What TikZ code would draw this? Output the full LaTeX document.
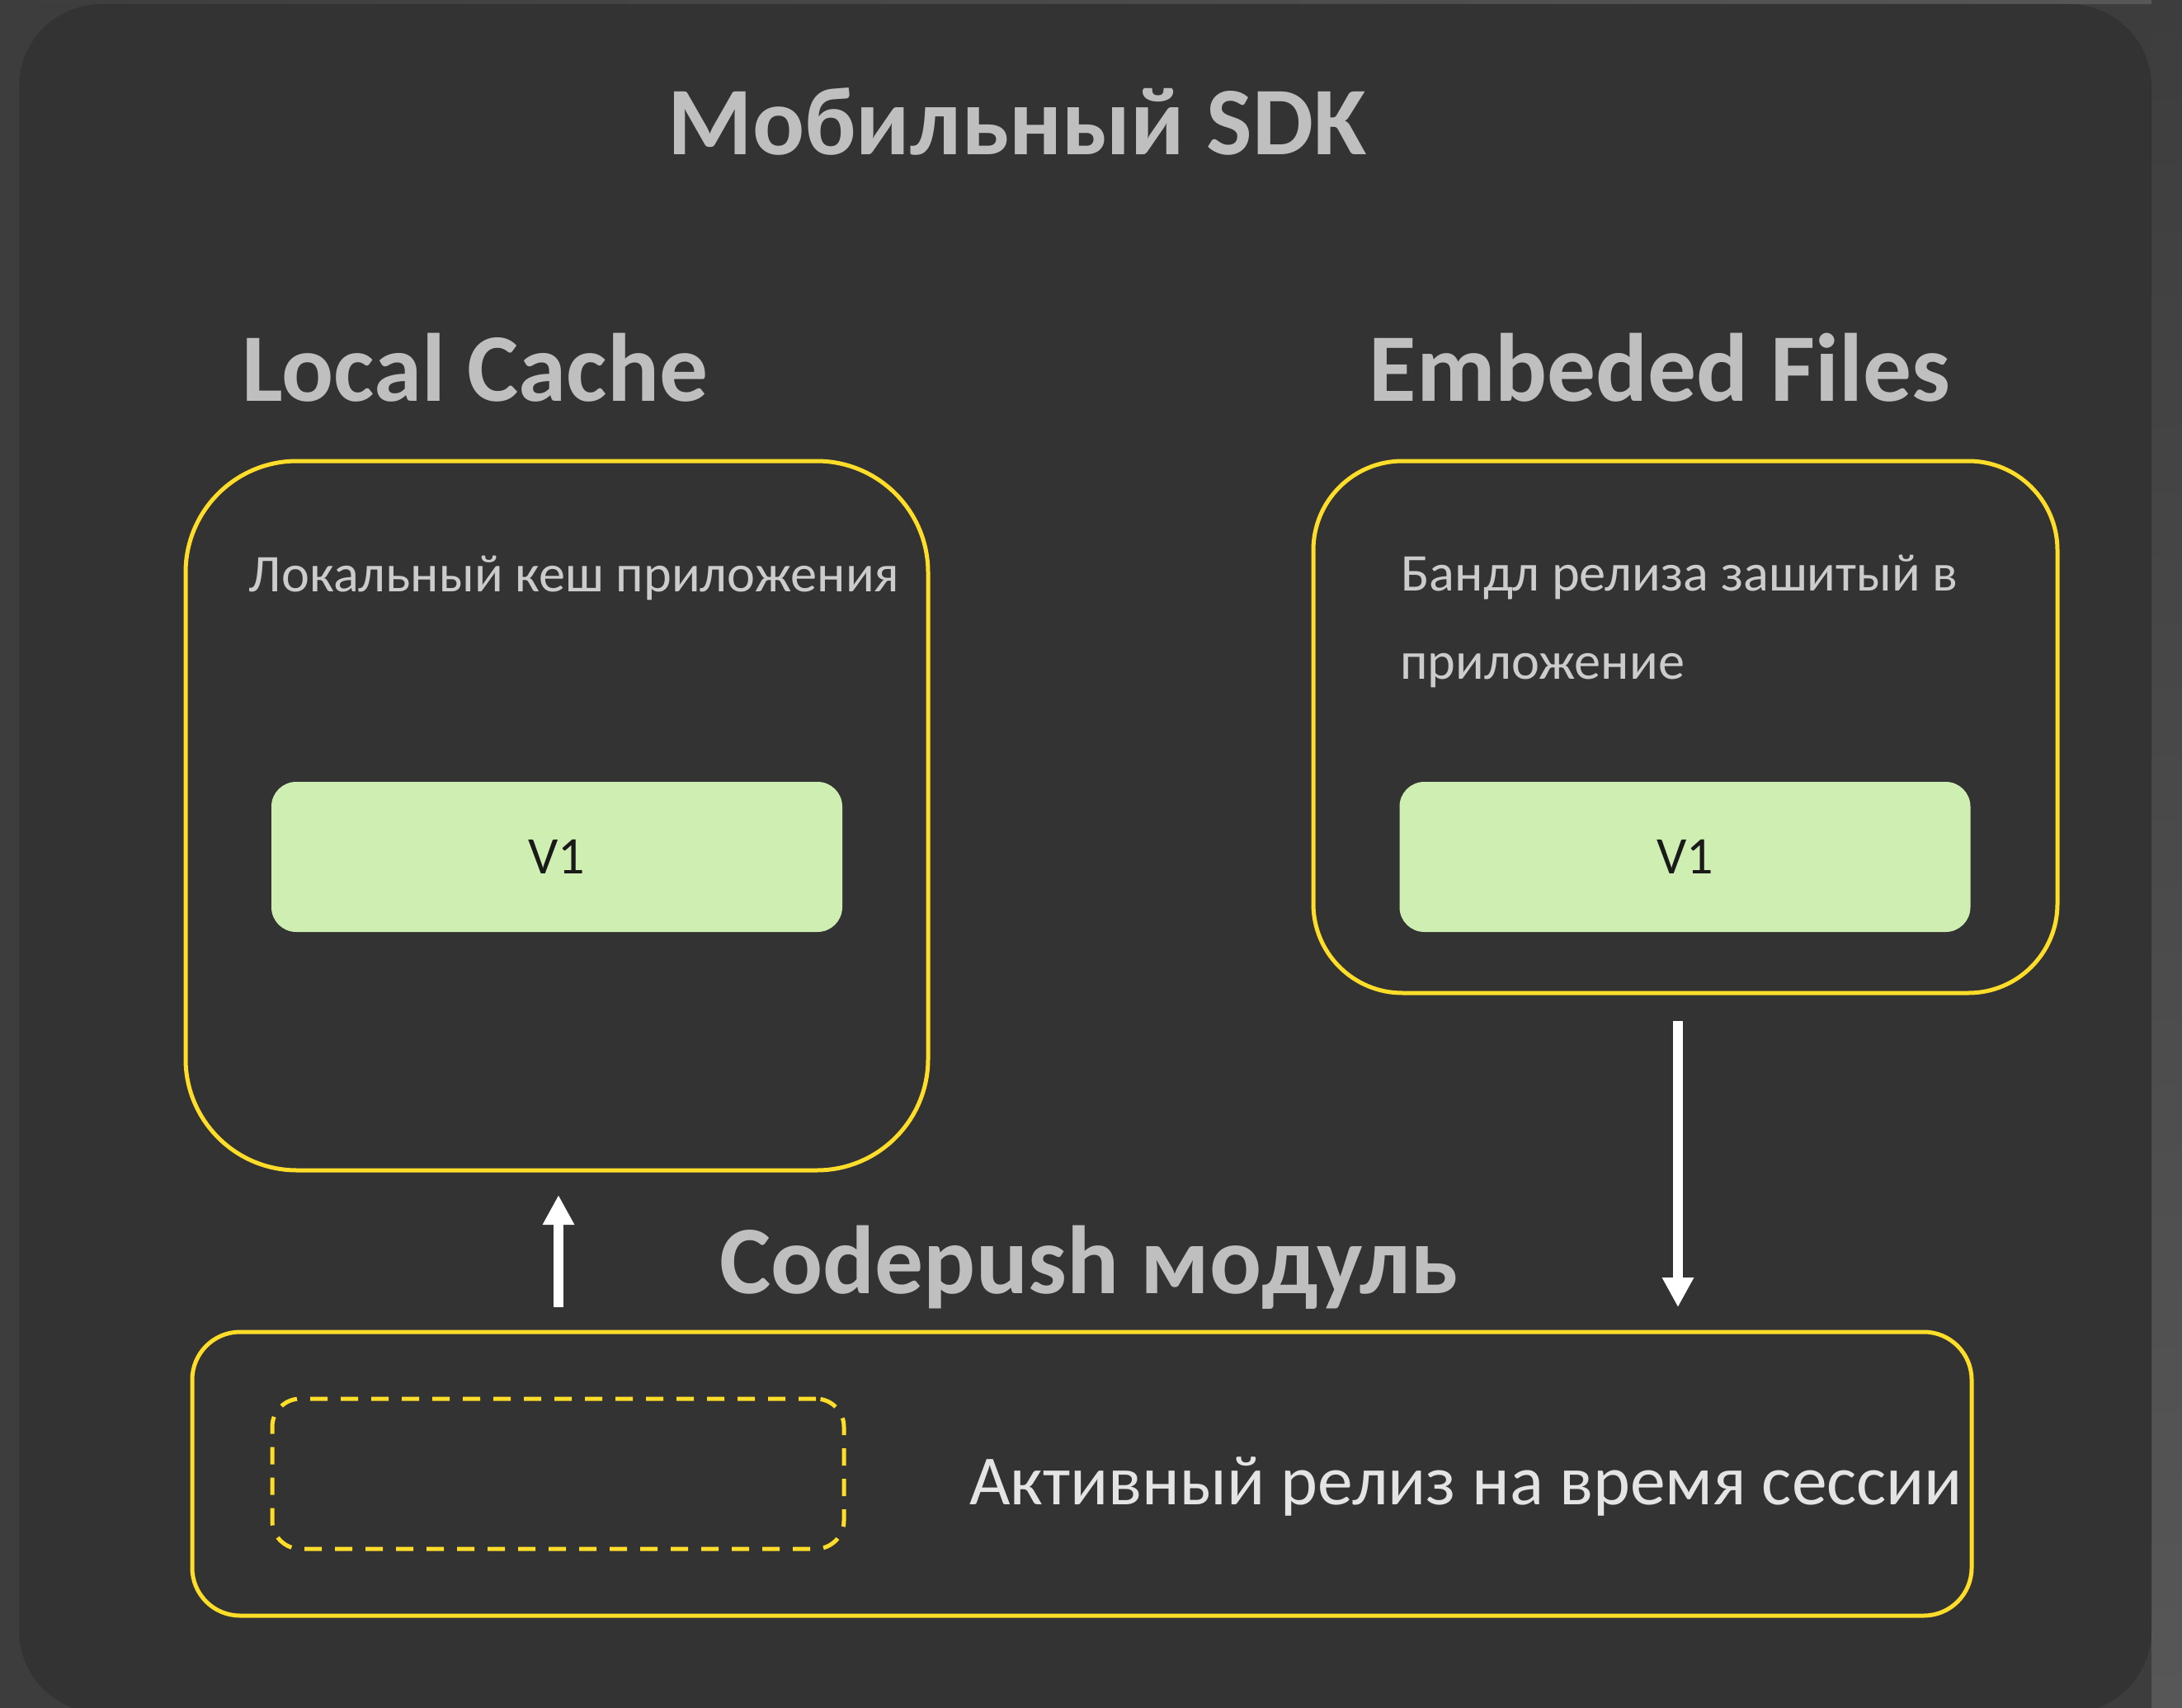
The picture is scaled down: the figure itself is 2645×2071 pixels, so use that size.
\documentclass[tikz,border=0pt]{standalone}
\usepackage{fontspec}
\setmainfont{Carlito}
\usetikzlibrary{arrows.meta}

\definecolor{outerbg}{HTML}{3D3D3D}
\definecolor{outerlight}{HTML}{575757}
\definecolor{panelbg}{HTML}{333333}
\definecolor{headgray}{HTML}{BFBFBF}
\definecolor{bodygray}{HTML}{CCCCCC}
\definecolor{activegray}{HTML}{E4E4E4}
\definecolor{lineyellow}{HTML}{FFDD28}
\definecolor{vgreen}{HTML}{CFEFB2}
\definecolor{vtext}{HTML}{1A1A1A}

\begin{document}
\begin{tikzpicture}[x=1pt,y=-1pt,
  heading/.style={text=headgray, inner sep=0pt,
    font=\fontsize{117.5}{140}\selectfont\bfseries},
  bodytext/.style={text=bodygray, inner sep=0pt,
    font=\fontsize{64.3}{76}\selectfont},
  activetext/.style={text=activegray, inner sep=0pt,
    font=\fontsize{85.5}{100}\selectfont},
  ybox/.style={draw=lineyellow, line width=5pt, rounded corners=#1,
    inner sep=0pt, outer sep=0pt},
  dashbox/.style={draw=lineyellow, line width=5pt, rounded corners=34pt,
    dash pattern=on 21pt off 16pt, inner sep=0pt, outer sep=0pt},
  version/.style={fill=vgreen, rounded corners=30pt, text=vtext,
    minimum width=692pt, minimum height=182pt, inner sep=0pt,
    font=\fontsize{64}{76}\selectfont},
  flow/.style={draw=white, line width=12pt,
    -{Triangle[length=36pt,width=36pt]}}
]
% page background and the lighter top/right edges
\useasboundingbox (0,0) rectangle (2645,2071);
\fill[outerbg] (0,0) rectangle (2645,2071);
\shade[left color=outerbg, right color=outerlight] (0,0) rectangle (2645,5);
\shade[top color=outerbg, bottom color=outerlight] (2608,0) rectangle (2645,2071);

% main panel
\fill[panelbg, rounded corners=100pt] (23,5) rectangle (2608,2077);

% headings
\node[heading, anchor=base] (title) at (1233,188) {Мобильный SDK};
\node[heading, anchor=base] (lchead) at (576,486) {Local Cache};
\node[heading, anchor=base] (efhead) at (2012,486) {Embeded Files};
\node[heading, anchor=base] (cphead) at (1320,1568) {Codepush модуль};

% local cache container
\node[ybox=135pt, minimum width=900pt, minimum height=860pt] (lc) at (675,989) {};
\node[bodytext, anchor=base] (lctext) at (696,717) {Локальный кеш приложения};
\node[version] (lcv) at (675,1039) {V1};

% embedded files container
\node[ybox=108pt, minimum width=902pt, minimum height=645pt] (ef) at (2043,881.5) {};
\node[bodytext, anchor=base west] (eftext1) at (1698,716) {Бандл релиза зашитый в};
\node[bodytext, anchor=base west] (eftext2) at (1697,823) {приложение};
\node[version] (efv) at (2042.5,1039) {V1};

% codepush module
\node[ybox=58pt, minimum width=2157pt, minimum height=344pt] (cp) at (1311.5,1787) {};
\node[dashbox, minimum width=693pt, minimum height=182pt] (slot) at (676.5,1787) {};
\node[activetext, anchor=base] (cptext) at (1777,1824) {Активный релиз на время сессии};

% data flow between the module and the stores
\coordinate (upx) at (677,0);
\coordinate (dnx) at (2034,0);
\draw[flow, shorten <=30pt, shorten >=30pt] (cp.north -| upx) -- (lc.south -| upx);
\draw[flow, shorten <=34pt, shorten >=30pt] (ef.south -| dnx) -- (cp.north -| dnx);
\end{tikzpicture}
\end{document}
